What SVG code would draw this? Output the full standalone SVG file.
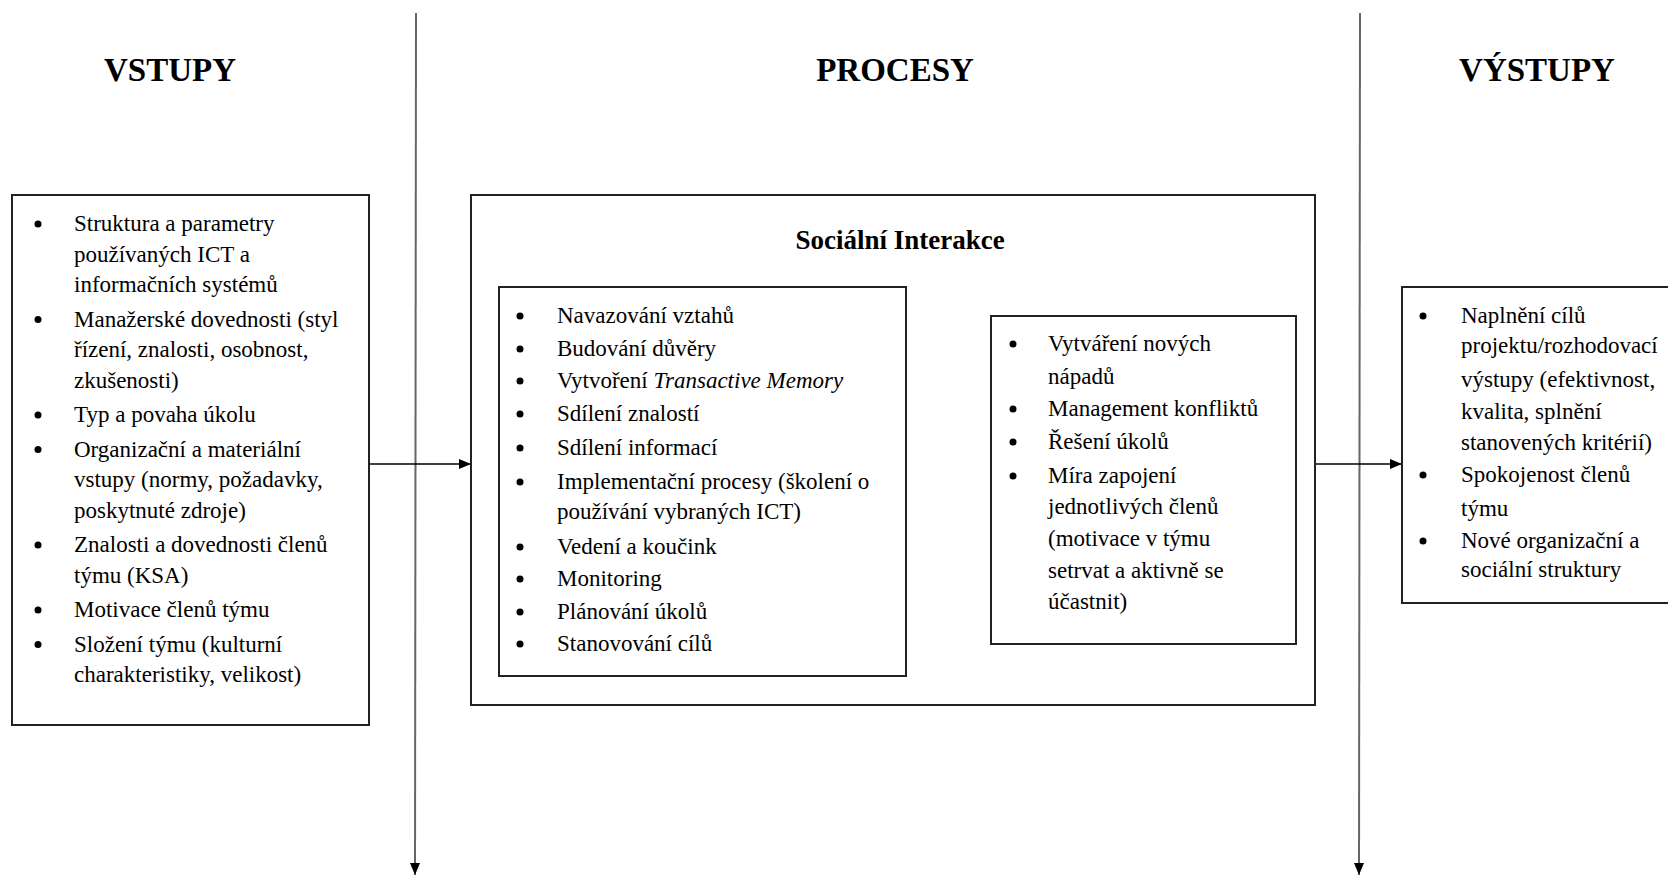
<svg xmlns="http://www.w3.org/2000/svg" width="1668" height="875" viewBox="0 0 1668 875">
  <style>
    .head { font-family: "Liberation Serif", "Times New Roman", serif; font-weight: bold; font-size: 33px; fill: #000; text-anchor: middle; }
    .sub { font-family: "Liberation Serif", "Times New Roman", serif; font-weight: bold; font-size: 27px; fill: #000; text-anchor: middle; }
    .t { font-family: "Liberation Serif", "Times New Roman", serif; font-size: 23px; fill: #000; }
    .box { fill: #fff; stroke: #222; stroke-width: 2; }
    .conn { stroke: #000; stroke-width: 1.6; fill: none; }
    .axis { stroke: #666; stroke-width: 2; fill: none; }
    .dot { fill: #000; }
  </style>
  <defs>
    <marker id="ah" viewBox="0 0 12 10" refX="12" refY="5" markerWidth="12" markerHeight="10" markerUnits="userSpaceOnUse" orient="auto">
      <path d="M0,0 L12,5 L0,10 Z" fill="#000"/>
    </marker>
  </defs>

  <rect x="0" y="0" width="1668" height="875" fill="#fff"/>

  <!-- column headings -->
  <g id="headings">
    <text class="head" x="170" y="81">VSTUPY</text>
    <text class="head" x="895" y="81">PROCESY</text>
    <text class="head" x="1537" y="81">VÝSTUPY</text>
  </g>

  <!-- connectors: column dividers and flow arrows -->
  <g id="connectors">
    <line class="axis" x1="416" y1="13" x2="415" y2="875" marker-end="url(#ah)"/>
    <line class="axis" x1="1360" y1="13" x2="1359" y2="875" marker-end="url(#ah)"/>
    <line class="conn" x1="369" y1="464" x2="471" y2="464" marker-end="url(#ah)"/>
    <line class="conn" x1="906" y1="477" x2="991" y2="477" marker-end="url(#ah)"/>
    <line class="conn" x1="1315" y1="464" x2="1402" y2="464" marker-end="url(#ah)"/>
  </g>

  <!-- inputs -->
  <g id="vstupy">
    <rect class="box" x="12" y="195" width="357" height="530"/>
    <circle class="dot" cx="38" cy="224" r="3.5"/>
    <text class="t" x="74" y="231">Struktura a parametry</text>
    <text class="t" x="74" y="261.5">používaných ICT a</text>
    <text class="t" x="74" y="292">informačních systémů</text>
    <circle class="dot" cx="38" cy="319.5" r="3.5"/>
    <text class="t" x="74" y="326.5">Manažerské dovednosti (styl</text>
    <text class="t" x="74" y="357">řízení, znalosti, osobnost,</text>
    <text class="t" x="74" y="387.5">zkušenosti)</text>
    <circle class="dot" cx="38" cy="415" r="3.5"/>
    <text class="t" x="74" y="422">Typ a povaha úkolu</text>
    <circle class="dot" cx="38" cy="449.5" r="3.5"/>
    <text class="t" x="74" y="456.5">Organizační a materiální</text>
    <text class="t" x="74" y="487">vstupy (normy, požadavky,</text>
    <text class="t" x="74" y="517.5">poskytnuté zdroje)</text>
    <circle class="dot" cx="38" cy="545" r="3.5"/>
    <text class="t" x="74" y="552">Znalosti a dovednosti členů</text>
    <text class="t" x="74" y="582.5">týmu (KSA)</text>
    <circle class="dot" cx="38" cy="610" r="3.5"/>
    <text class="t" x="74" y="617">Motivace členů týmu</text>
    <circle class="dot" cx="38" cy="644.5" r="3.5"/>
    <text class="t" x="74" y="651.5">Složení týmu (kulturní</text>
    <text class="t" x="74" y="682">charakteristiky, velikost)</text>
  </g>

  <!-- processes: social interaction frame -->
  <g id="procesy">
    <rect class="box" x="471" y="195" width="844" height="510"/>
    <text class="sub" x="900" y="249">Sociální Interakce</text>
  </g>

  <g id="interakce-vstup">
    <rect class="box" x="499" y="287" width="407" height="389"/>
    <circle class="dot" cx="520" cy="316" r="3.5"/>
    <text class="t" x="557" y="323">Navazování vztahů</text>
    <circle class="dot" cx="520" cy="349" r="3.5"/>
    <text class="t" x="557" y="356">Budování důvěry</text>
    <circle class="dot" cx="520" cy="381" r="3.5"/>
    <text class="t" x="557" y="388">Vytvoření <tspan font-style="italic">Transactive Memory</tspan></text>
    <circle class="dot" cx="520" cy="414" r="3.5"/>
    <text class="t" x="557" y="421">Sdílení znalostí</text>
    <circle class="dot" cx="520" cy="448" r="3.5"/>
    <text class="t" x="557" y="455">Sdílení informací</text>
    <circle class="dot" cx="520" cy="482" r="3.5"/>
    <text class="t" x="557" y="489">Implementační procesy (školení o</text>
    <text class="t" x="557" y="519">používání vybraných ICT)</text>
    <circle class="dot" cx="520" cy="547" r="3.5"/>
    <text class="t" x="557" y="554">Vedení a koučink</text>
    <circle class="dot" cx="520" cy="579" r="3.5"/>
    <text class="t" x="557" y="586">Monitoring</text>
    <circle class="dot" cx="520" cy="612" r="3.5"/>
    <text class="t" x="557" y="619">Plánování úkolů</text>
    <circle class="dot" cx="520" cy="644" r="3.5"/>
    <text class="t" x="557" y="651">Stanovování cílů</text>
  </g>

  <g id="interakce-vysledek">
    <rect class="box" x="991" y="316" width="305" height="328"/>
    <circle class="dot" cx="1013" cy="344" r="3.5"/>
    <text class="t" x="1048" y="351">Vytváření nových</text>
    <text class="t" x="1048" y="384">nápadů</text>
    <circle class="dot" cx="1013" cy="409" r="3.5"/>
    <text class="t" x="1048" y="416">Management konfliktů</text>
    <circle class="dot" cx="1013" cy="442" r="3.5"/>
    <text class="t" x="1048" y="449">Řešení úkolů</text>
    <circle class="dot" cx="1013" cy="476" r="3.5"/>
    <text class="t" x="1048" y="483">Míra zapojení</text>
    <text class="t" x="1048" y="514">jednotlivých členů</text>
    <text class="t" x="1048" y="546">(motivace v týmu</text>
    <text class="t" x="1048" y="578">setrvat a aktivně se</text>
    <text class="t" x="1048" y="609">účastnit)</text>
  </g>

  <!-- outputs -->
  <g id="vystupy">
    <rect class="box" x="1402" y="287" width="290" height="316"/>
    <circle class="dot" cx="1423" cy="316" r="3.5"/>
    <text class="t" x="1461" y="323">Naplnění cílů</text>
    <text class="t" x="1461" y="353">projektu/rozhodovací</text>
    <text class="t" x="1461" y="387">výstupy (efektivnost,</text>
    <text class="t" x="1461" y="419">kvalita, splnění</text>
    <text class="t" x="1461" y="450">stanovených kritérií)</text>
    <circle class="dot" cx="1423" cy="475" r="3.5"/>
    <text class="t" x="1461" y="482">Spokojenost členů</text>
    <text class="t" x="1461" y="516">týmu</text>
    <circle class="dot" cx="1423" cy="541" r="3.5"/>
    <text class="t" x="1461" y="548">Nové organizační a</text>
    <text class="t" x="1461" y="577">sociální struktury</text>
  </g>
</svg>
